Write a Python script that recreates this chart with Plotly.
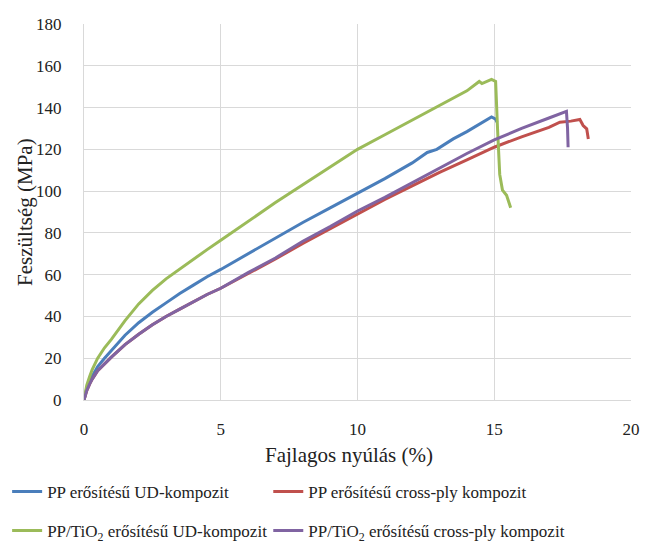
import plotly.graph_objects as go

# Data (strain %, stress MPa)
blue_x = [0, 0.1, 0.2, 0.3, 0.5, 0.75, 1, 1.5, 2, 2.5, 3, 3.5, 4, 4.5, 5, 6, 7, 8, 9, 10, 11, 12,
          12.55, 12.9, 13.5, 14, 14.5, 14.9, 15.05, 15.1]
blue_y = [0, 5.5, 9, 11.5, 16, 20, 23.5, 31, 37, 42, 46.5, 51, 55, 59, 62.5, 70, 77.5, 85, 92, 99, 106, 113.5,
          118.5, 120, 125, 128.5, 132.5, 135.5, 134.5, 133]

red_x = [0, 0.1, 0.2, 0.3, 0.5, 0.75, 1, 1.5, 2, 2.5, 3, 3.5, 4, 4.5, 5, 6, 7, 8, 9, 10, 11, 12, 13, 14,
         15, 16, 17, 17.4, 17.8, 18.13, 18.25, 18.38, 18.42, 18.44]
red_y = [0, 4.5, 7.5, 10, 14, 17.5, 20.5, 26.5, 31.5, 36, 40, 43.5, 47, 50.5, 53.5, 60.5, 67.5, 75, 82, 89, 96, 102.5, 109, 115,
         121, 126, 130.5, 133, 133.5, 134.3, 131.4, 129.8, 127, 125]

green_x = [0, 0.1, 0.2, 0.3, 0.5, 0.75, 1, 1.5, 2, 2.5, 3, 3.5, 4, 4.5, 5, 6, 7, 8, 9, 10, 11, 12, 13, 14,
           14.45, 14.55, 14.9, 15.05, 15.12, 15.16, 15.2, 15.3, 15.45, 15.6]
green_y = [0, 7, 11, 14.5, 20, 25, 29, 38, 46, 52.5, 58, 62.8, 67.5, 72, 76.5, 85.5, 94.5, 103, 111.5, 120, 127, 134, 141, 148,
           152.5, 151.5, 153.5, 152.5, 130, 119, 108, 100.5, 98, 92]

purple_x = [0, 0.1, 0.2, 0.3, 0.5, 0.75, 1, 1.5, 2, 2.5, 3, 3.5, 4, 4.5, 5, 6, 7, 8, 9, 10, 11, 12, 13, 14,
            15, 16, 17, 17.64, 17.68, 17.7]
purple_y = [0, 4.5, 7.5, 10, 14, 17.5, 20.5, 26.5, 31.5, 36, 40, 43.5, 47, 50.5, 53.5, 61, 68, 76, 83, 90.5, 97, 104, 111, 118,
            124.5, 130, 135, 138.2, 130, 121]

names = ["PP erősítésű UD-kompozit",
         "PP erősítésű cross-ply kompozit",
         "PP/TiO<sub>2</sub> erősítésű UD-kompozit",
         "PP/TiO<sub>2</sub> erősítésű cross-ply kompozit"]
colors = ["#4a7ebb", "#c0504d", "#9bbb59", "#8064a2"]
x_ticks = [0, 5, 10, 15, 20]
y_ticks = [0, 20, 40, 60, 80, 100, 120, 140, 160, 180]
x_title = "Fajlagos nyúlás (%)"
y_title = "Feszültség (MPa)"

series = [(blue_x, blue_y), (red_x, red_y), (green_x, green_y), (purple_x, purple_y)]
legend_ids = ["legend", "legend2", "legend3", "legend4"]
# legend slot positions (container fraction): two columns, two rows
legend_pos = [(0.011, 0.094), (0.414, 0.094), (0.011, 0.022), (0.414, 0.022)]

fig = go.Figure()
for (xs, ys), nm, c, lg in zip(series, names, colors, legend_ids):
    fig.add_trace(go.Scatter(x=xs, y=ys, mode="lines", name=nm, showlegend=True,
                             line=dict(color=c, width=3), legend=lg))

font = "Liberation Serif, serif"
legends = {}
for lg, (lx, ly) in zip(legend_ids, legend_pos):
    legends[lg] = dict(orientation="h", xref="container", yref="container",
                       x=lx, y=ly, xanchor="left", yanchor="middle",
                       font=dict(size=17), bgcolor="rgba(0,0,0,0)")

fig.update_layout(
    width=648, height=543, showlegend=True,
    margin=dict(l=84, r=17, t=24, b=143, autoexpand=False),
    plot_bgcolor="white", paper_bgcolor="white",
    font=dict(family=font, size=17, color="#222"),
    xaxis=dict(range=[0, 20], tickvals=x_ticks, showgrid=True, gridcolor="#d9d9d9",
               zeroline=False, showline=True, linecolor="#d9d9d9", automargin=False,
               ticklabelstandoff=14, tickfont=dict(size=17)),
    yaxis=dict(range=[0, 180], tickvals=y_ticks, showgrid=True, gridcolor="#d9d9d9",
               zeroline=False, showline=True, linecolor="#d9d9d9", automargin=False,
               ticklabelstandoff=18, tickfont=dict(size=17)),
    annotations=[
        dict(text=x_title, xref="paper", yref="paper", x=0.4845, y=-0.146,
             xanchor="center", yanchor="middle", showarrow=False, font=dict(size=21)),
        dict(text=y_title, xref="paper", yref="paper", x=-0.108, y=0.5,
             xanchor="center", yanchor="middle", showarrow=False, textangle=-90,
             font=dict(size=21)),
    ],
    **legends,
)

fig.write_html("out.html", config={"displayModeBar": False},
               post_script="document.body.style.margin='0';document.body.style.overflow='hidden';")
